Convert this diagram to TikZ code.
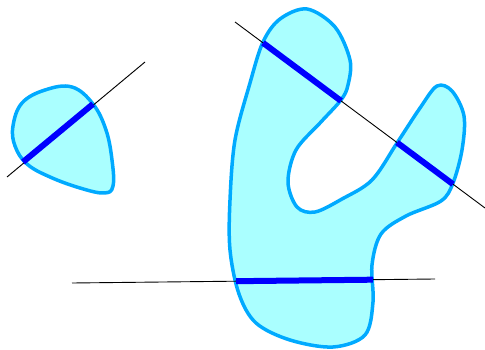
\documentclass[tikz,border=0pt]{standalone}
\usepackage{tikz}
\usetikzlibrary{calc}
\definecolor{blobfill}{RGB}{170,255,255}
\definecolor{blobedge}{RGB}{0,170,255}
\tikzset{
  blob/.style={fill=blobfill, draw=blobedge, line width=3.5pt, line join=round},
  cutline/.style={black, line width=0.9pt},
  chord/.style={draw=blue, line width=6pt}
}
\begin{document}
\begin{tikzpicture}[x=1pt, y=-1pt]
    \useasboundingbox (0,0) rectangle (485,350);

    % Convex blob
    \draw[blob] plot[smooth cycle, tension=0.65] coordinates {
      (13,126) (22,103) (45,90) (72,87) (93,104) (106,130) (112,160)
      (113,186) (104,193) (80,188) (50,177) (27,164) (15,146)};

    % Non-convex blob
    \draw[blob] plot[smooth cycle, tension=0.55] coordinates {
      (307,9) (335,27) (350,60) (348,85) (341,100) (320,123) (296,150)
      (288,182) (297,207) (315,212) (342,199) (372,180) (397,143)
      (420,108) (437,86) (452,91) (464,116) (462,150) (453,183) (441,201)
      (406,216) (381,234) (372,265) (373,302) (365,335) (333,347) (290,340)
      (256,323) (239,294) (230,250) (230,200) (235,140) (250,83) (263,42)
      (280,19)};

    % Cutting lines
    \coordinate (a1) at (7,177);
    \coordinate (a2) at (145,62);
    \coordinate (b1) at (235,22);
    \coordinate (b2) at (485,208);
    \coordinate (c1) at (72,283);
    \coordinate (c2) at (435,279);
    \draw[cutline] (a1) -- (a2);
    \draw[cutline] (b1) -- (b2);
    \draw[cutline] (c1) -- (c2);

    % Chords
    \coordinate (p1) at (23,162);
    \coordinate (p2) at (93,104);
    \coordinate (q1) at ($(b1)!0.112!(b2)$);
    \coordinate (q2) at ($(b1)!0.424!(b2)$);
    \coordinate (q3) at ($(b1)!0.648!(b2)$);
    \coordinate (q4) at ($(b1)!0.872!(b2)$);
    \coordinate (r1) at ($(c1)!0.452!(c2)$);
    \coordinate (r2) at ($(c1)!0.829!(c2)$);
    \draw[chord] (p1) -- (p2);
    \draw[chord] (q1) -- (q2);
    \draw[chord] (q3) -- (q4);
    \draw[chord] (r1) -- (r2);
\end{tikzpicture}
\end{document}
